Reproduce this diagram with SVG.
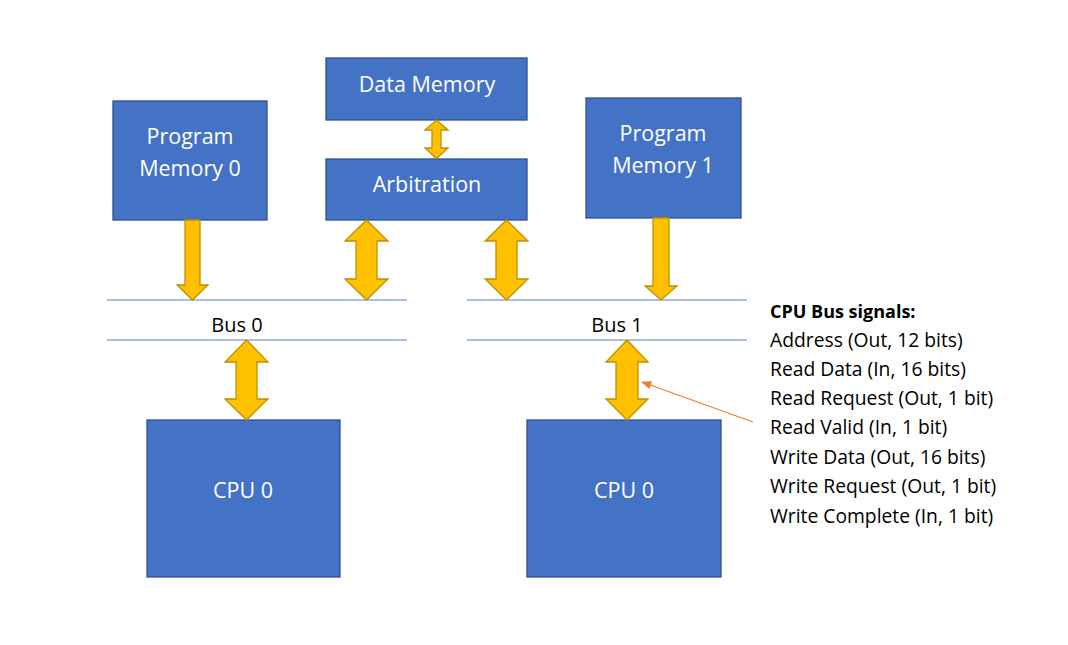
<svg xmlns="http://www.w3.org/2000/svg" width="1068" height="645" viewBox="0 0 1068 645">
<style>
.box{fill:#4472C4;stroke:#2F528F;stroke-width:1.3}
.bt{fill:#fff;font-family:"Open Sans","Liberation Sans",sans-serif;font-size:21.5px;text-anchor:middle}
.arr{fill:#FFC000;stroke:#BF9000;stroke-width:1.3;stroke-linejoin:miter}
.bus{stroke:#8FAADC;stroke-width:1.5}
.lbl{fill:#000;font-family:"Open Sans","Liberation Sans",sans-serif;font-size:19.3px}
.bl{fill:#000;font-family:"Open Sans","Liberation Sans",sans-serif;font-size:20px;text-anchor:middle}
</style>
<defs>
<marker id="oa" viewBox="0 0 10 10" refX="9" refY="5" markerWidth="8" markerHeight="8" orient="auto"><path d="M0,1 L10,5 L0,9 Z" fill="#ED7D31"/></marker>
</defs>
<rect width="1068" height="645" fill="#fff"/>
<g id="pm0"><rect class="box" x="113" y="101" width="154" height="119"/><text class="bt" x="190" y="144">Program</text><text class="bt" x="190" y="176">Memory 0</text></g>
<g id="dm"><rect class="box" x="326" y="58" width="201" height="62"/><text class="bt" x="427" y="92">Data Memory</text></g>
<g id="arb"><rect class="box" x="326" y="159" width="201" height="61"/><text class="bt" x="427" y="192">Arbitration</text></g>
<g id="pm1"><rect class="box" x="586" y="98" width="155" height="120"/><text class="bt" x="663" y="141">Program</text><text class="bt" x="663" y="173">Memory 1</text></g>
<g id="cpu0"><rect class="box" x="147" y="420" width="193" height="157"/><text class="bt" x="243" y="498">CPU 0</text></g>
<g id="cpu1"><rect class="box" x="527" y="420" width="194" height="157"/><text class="bt" x="624" y="498">CPU 0</text></g>
<g id="bus0"><line class="bus" x1="107" y1="300" x2="407" y2="300"/><line class="bus" x1="107" y1="340" x2="407" y2="340"/><text class="bl" x="237" y="332">Bus 0</text></g>
<g id="bus1"><line class="bus" x1="467" y1="300" x2="747" y2="300"/><line class="bus" x1="467" y1="340" x2="747" y2="340"/><text class="bl" x="617" y="332">Bus 1</text></g>
<g id="signals" class="lbl">
<text x="770" y="318" font-weight="bold" font-size="18">CPU Bus signals:</text>
<text x="770" y="347">Address (Out, 12 bits)</text>
<text x="770" y="376">Read Data (In, 16 bits)</text>
<text x="770" y="405">Read Request (Out, 1 bit)</text>
<text x="770" y="434">Read Valid (In, 1 bit)</text>
<text x="770" y="464">Write Data (Out, 16 bits)</text>
<text x="770" y="493">Write Request (Out, 1 bit)</text>
<text x="770" y="523">Write Complete (In, 1 bit)</text>
</g>
<g id="connectors">
<path class="arr" d="M185,220 H200 V285 H208 L192.5,300 L177,285 H185 Z"/>
<path class="arr" d="M653,218 H669 V286 H677 L661,300 L645,286 H653 Z"/>
<path class="arr" d="M436.5,120 L448,130 H441 V148 H448 L436.5,158.5 L425,148 H432 V130 H425 Z"/>
<path class="arr" d="M366.5,220 L388,241 H377 V279 H388 L366.5,300 L345,279 H356 V241 H345 Z"/>
<path class="arr" d="M506.5,220 L528,241 H517 V279 H528 L506.5,300 L485,279 H496 V241 H485 Z"/>
<path class="arr" d="M246.5,340 L268,362 H257 V399 H268 L246.5,420 L225,399 H236 V362 H225 Z"/>
<path class="arr" d="M627,340 L648,362 H638 V399 H648 L627,420 L606,399 H616 V362 H606 Z"/>
<line x1="753" y1="422" x2="642" y2="382" stroke="#ED7D31" stroke-width="1.3" marker-end="url(#oa)"/>
</g>
</svg>
